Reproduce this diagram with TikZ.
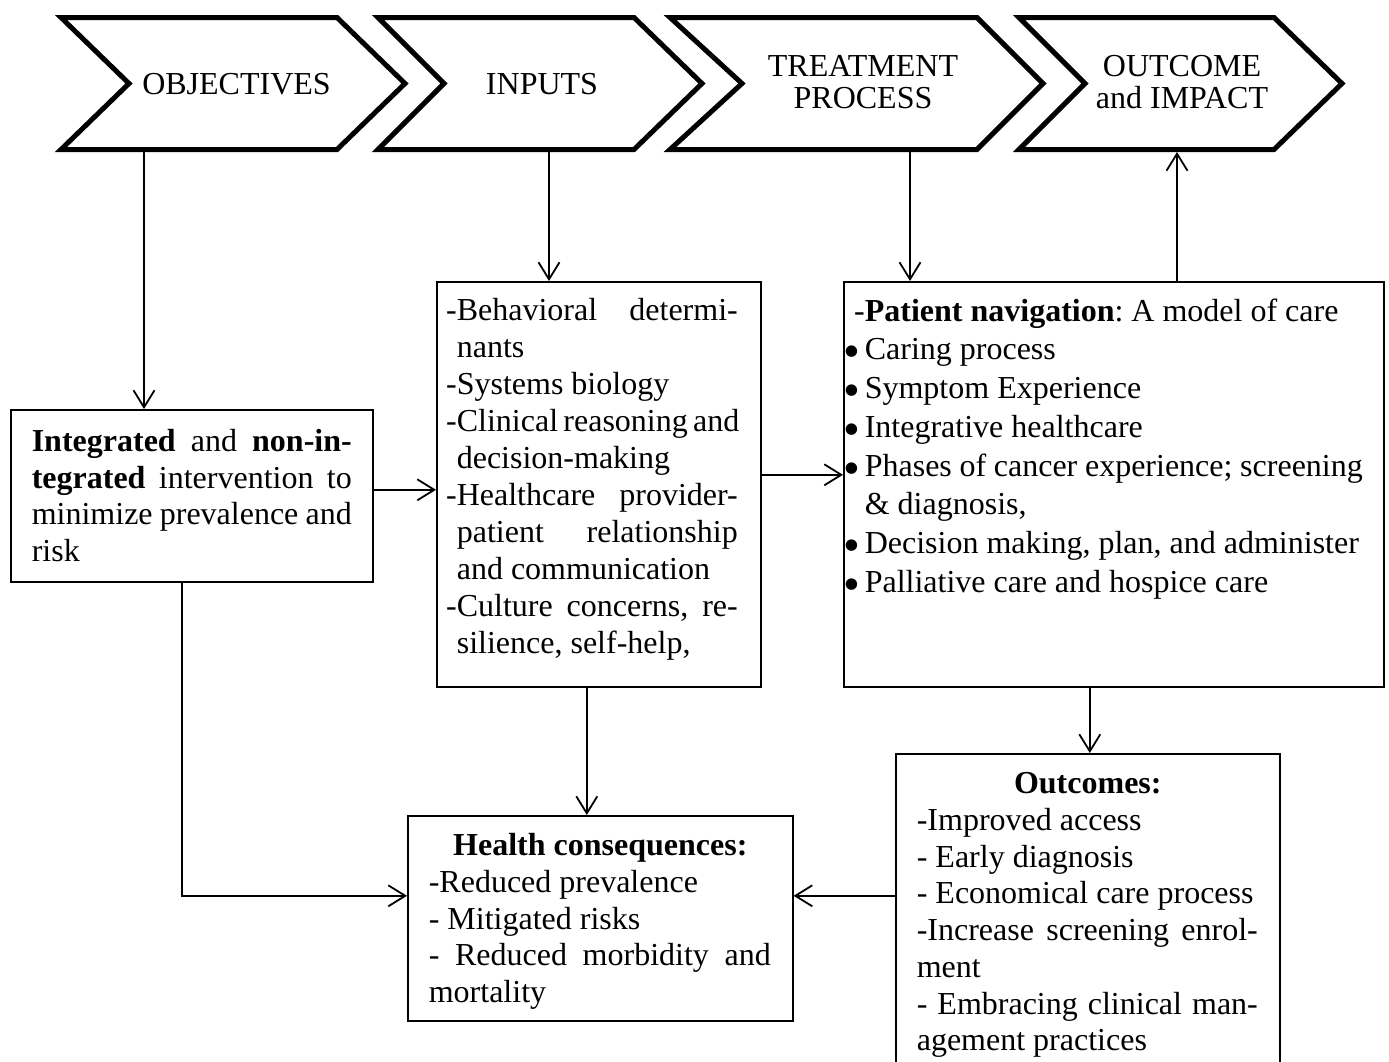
\documentclass[tikz,border=0pt]{standalone}
\usepackage{fontspec}
\usepackage{graphicx}
\setmainfont{Liberation Serif}
\usetikzlibrary{arrows.meta}
\frenchspacing
\newcommand\JL[2]{\makebox[#1][s]{#2}}
\newcommand\Bul{\leavevmode\llap{\raisebox{-8pt}[0pt][0pt]{\scalebox{1.5}{•}}\kern 5pt}}
\newcommand\Dsh{\leavevmode\llap{-}}
\begin{document}
\begin{tikzpicture}[x=1pt,y=-1pt,
  chev/.style={line width=5pt, line join=miter},
  chtext/.style={inner sep=0pt, font=\fontsize{32}{32.5}\selectfont},
  box/.style={draw, line width=1.6pt, anchor=north west, inner xsep=21pt},
  arr/.style={line width=1.8pt, -{Straight Barb[length=17pt,width=21pt]}}
]
\useasboundingbox (0,0) rectangle (1389,1061);
\clip (0,0) rectangle (1389,1061);

% chevrons
\draw[chev] (61,17.5) -- (337,17.5) -- (405,83.5) -- (337,149.5) -- (61,149.5) -- (129,83.5) -- cycle;
\draw[chev] (378,17.5) -- (634,17.5) -- (702,83.5) -- (634,149.5) -- (378,149.5) -- (444,83.5) -- cycle;
\draw[chev] (670,17.5) -- (977,17.5) -- (1043,83.5) -- (977,149.5) -- (670,149.5) -- (742,83.5) -- cycle;
\draw[chev] (1019,17.5) -- (1274,17.5) -- (1342,83.5) -- (1274,149.5) -- (1019,149.5) -- (1085,83.5) -- cycle;

\node[chtext, anchor=base] (ch1) at (236.5,94.3) {OBJECTIVES};
\node[chtext, anchor=base] (ch2) at (542,94.3) {INPUTS};
\node[chtext, anchor=base] (ch3) at (863,76) {\parbox[t]{260pt}{\centering\fontsize{32}{32.5}\selectfont TREATMENT\\PROCESS}};
\node[chtext, anchor=base] (ch4) at (1182,76) {\parbox[t]{260pt}{\centering\fontsize{32}{32.5}\selectfont OUTCOME\\and IMPACT}};

% boxes
\node[box, inner ysep=16.45pt] (A) at (10,409) {\parbox[t][139.1pt][t]{320pt}{\fontsize{32}{36.5}\selectfont\raggedright
\strut\JL{320pt}{\textbf{Integrated} and \textbf{non-in-}}\\
\JL{320pt}{\textbf{tegrated} intervention to}\\
\JL{320pt}{minimize prevalence and}\\
risk}};

\node[box, inner xsep=20pt, inner ysep=13.1pt] (B) at (436,281) {\parbox[t][378.8pt][t]{284pt}{\fontsize{32}{37}\selectfont\raggedright
\strut\Dsh\JL{281pt}{Behavioral determi-}\\
nants\\
\Dsh Systems biology\\
\Dsh\JL{281pt}{Clinical reasoning and}\\
decision-making\\
\Dsh\JL{281pt}{Healthcare provider-}\\
\JL{281pt}{patient relationship}\\
and communication\\
\Dsh\JL{281pt}{Culture concerns, re-}\\
silience, self-help,}};

\node[box, inner ysep=12.4pt] (C) at (843,281) {\parbox[t][380.2pt][t]{498pt}{\fontsize{32}{38.7}\selectfont\raggedright
\strut\Dsh\textbf{Patient navigation}: A model of care\\
\Bul Caring process\\
\Bul Symptom Experience\\
\Bul Integrative healthcare\\
\Bul Phases of cancer experience; screening\\
\& diagnosis,\\
\Bul Decision making, plan, and administer\\
\Bul Palliative care and hospice care}};

\node[box, inner ysep=14.3pt] (D) at (407,815) {\parbox[t][176.4pt][t]{343pt}{\fontsize{32}{36.7}\selectfont\raggedright
\strut\makebox[343pt]{\textbf{Health consequences:}}\\
-Reduced prevalence\\
- Mitigated risks\\
\JL{342pt}{- Reduced morbidity and}\\
mortality}};

\node[box, inner ysep=14.3pt] (E) at (895,753) {\parbox[t][308.4pt][t]{342pt}{\fontsize{32}{36.7}\selectfont\raggedright
\strut\makebox[342pt]{\textbf{Outcomes:}}\\
-Improved access\\
- Early diagnosis\\
- Economical care process\\
\JL{341pt}{-Increase screening enrol-}\\
ment\\
\JL{341pt}{- Embracing clinical man-}\\
agement practices}};

% connector anchors under the chevrons
\coordinate (p1) at (144,152);
\coordinate (p2) at (549,152);
\coordinate (p3) at (910,152);
\coordinate (p4) at (1177,152);

\draw[arr] (p1) -- (p1 |- A.north);
\draw[arr] (p2) -- (p2 |- B.north);
\draw[arr] (p3) -- (p3 |- C.north);
\draw[arr] (p4 |- C.north) -- (p4);
\draw[arr] ([yshift=6pt]A.east) -- ([yshift=6pt]A.east -| B.west);
\draw[arr] ([yshift=9.5pt]B.east) -- ([yshift=9.5pt]B.east -| C.west);
\draw[arr] ([xshift=-12pt]B.south) -- ([xshift=-12pt]B.south |- D.north);
\draw[arr] ([xshift=-10pt]A.south) |- ([yshift=22.5pt]D.west);
\draw[arr] ([xshift=-24pt]C.south) -- ([xshift=-24pt]C.south |- E.north);
\draw[arr] ([yshift=22.5pt]D.east -| E.west) -- ([yshift=22.5pt]D.east);
\end{tikzpicture}
\end{document}
